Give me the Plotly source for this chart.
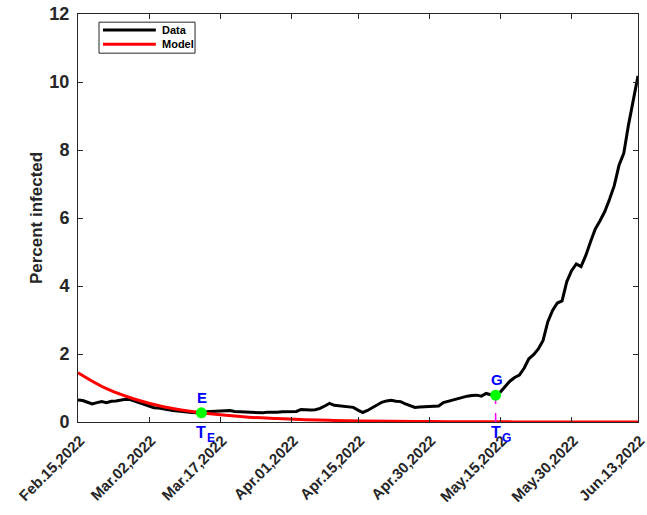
import plotly.graph_objects as go
import pandas as pd

start_date = "2022-02-15"

data_values = [
    0.65, 0.63, 0.58, 0.53, 0.57, 0.60, 0.57, 0.61, 0.62, 0.64,
    0.67, 0.66, 0.61, 0.56, 0.52, 0.47, 0.42, 0.41, 0.38, 0.36,
    0.34, 0.32, 0.30, 0.29, 0.28, 0.27, 0.27, 0.30, 0.31, 0.32,
    0.33, 0.34, 0.34, 0.31, 0.30, 0.29, 0.28, 0.28, 0.28, 0.27,
    0.29, 0.28, 0.29, 0.30, 0.30, 0.30, 0.31, 0.37, 0.35, 0.35,
    0.36, 0.40, 0.47, 0.55, 0.49, 0.48, 0.47, 0.46, 0.43, 0.35,
    0.28, 0.34, 0.42, 0.50, 0.58, 0.62, 0.64, 0.61, 0.60, 0.53,
    0.48, 0.43, 0.44, 0.45, 0.46, 0.45, 0.47, 0.57, 0.61, 0.65,
    0.68, 0.72, 0.76, 0.78, 0.79, 0.76, 0.84, 0.80, 0.79, 0.88,
    1.04, 1.20, 1.31, 1.38, 1.58, 1.86, 1.98, 2.15, 2.40, 2.95,
    3.28, 3.50, 3.56, 4.13, 4.45, 4.65, 4.57, 4.90, 5.30, 5.68,
    5.92, 6.19, 6.55, 6.95, 7.55, 7.90, 8.74, 9.47, 10.18,
]

model_days = [0, 6, 12, 18, 24, 30, 36, 42, 48, 54, 60, 66, 72, 78, 84, 90, 96, 102, 108, 114, 118]
model_values = [1.45, 0.98, 0.67, 0.45, 0.31, 0.21, 0.14, 0.10, 0.065, 0.045, 0.03, 0.02,
                0.014, 0.01, 0.006, 0.004, 0.003, 0.002, 0.001, 0.001, 0.0]

tick_dates = ["2022-02-15", "2022-03-02", "2022-03-17", "2022-04-01", "2022-04-15",
              "2022-04-30", "2022-05-15", "2022-05-30", "2022-06-13"]
tick_labels = ["Feb.15,2022", "Mar.02,2022", "Mar.17,2022", "Apr.01,2022", "Apr.15,2022",
               "Apr.30,2022", "May.15,2022", "May.30,2022", "Jun.13,2022"]
y_ticks = [0, 2, 4, 6, 8, 10, 12]

point_E_date, point_E_value = "2022-03-13", 0.27
point_G_date, point_G_value = "2022-05-14", 0.79

legend_names = ["Data", "Model"]
legend_colors = ["black", "#ff0000"]

data_dates = pd.date_range(start_date, periods=len(data_values), freq="D")
model_dates = pd.to_datetime(start_date) + pd.to_timedelta(model_days, unit="D")

AX = "#262626"
FONT = "Liberation Sans, Arial, sans-serif"
blue = "#0000ff"

fig = go.Figure()
fig.add_trace(go.Scatter(x=data_dates, y=data_values, mode="lines", name="Data",
                         line=dict(color="black", width=3), showlegend=False))
fig.add_trace(go.Scatter(x=model_dates, y=model_values, mode="lines", name="Model",
                         line=dict(color="#ff0000", width=3, shape="spline", smoothing=1.0),
                         showlegend=False))
fig.add_trace(go.Scatter(x=[point_G_date, point_G_date], y=[0, point_G_value], mode="lines",
                         line=dict(color="#ff00ff", width=1.5, dash="dash"), showlegend=False))
fig.add_trace(go.Scatter(x=[point_E_date, point_G_date], y=[point_E_value, point_G_value],
                         mode="markers", marker=dict(color="#00ff00", size=11),
                         showlegend=False))

for d, v, lab in [(point_E_date, point_E_value, "E"), (point_G_date, point_G_value, "G")]:
    fig.add_annotation(x=d, y=v, text=f"<b>{lab}</b>", showarrow=False, yanchor="bottom",
                       yshift=5, xshift=1, font=dict(color=blue, size=15, family=FONT))
    fig.add_annotation(x=d, y=0, text="<b>T</b>", showarrow=False,
                       yanchor="top", xanchor="center", xshift=0, yshift=0,
                       font=dict(color=blue, size=16, family=FONT))
    fig.add_annotation(x=d, y=0, text=f"<b>{lab}</b>", showarrow=False,
                       yanchor="top", xanchor="left", xshift=4, yshift=-7,
                       font=dict(color=blue, size=12, family=FONT))

fig.add_shape(type="rect", xref="paper", yref="paper", x0=0.0375, x1=0.209, y0=0.904, y1=0.980,
              line=dict(color=AX, width=1), fillcolor="white", layer="above")
for i, (nm, col) in enumerate(zip(legend_names, legend_colors)):
    yy = 0.961 - i * 0.035
    fig.add_shape(type="line", xref="paper", yref="paper", x0=0.0446, x1=0.139, y0=yy, y1=yy,
                  line=dict(color=col, width=3), layer="above")
    fig.add_annotation(xref="paper", yref="paper", x=0.146, y=yy, text=f"<b>{nm}</b>",
                       showarrow=False, xanchor="left", yanchor="middle",
                       font=dict(size=11, color="black", family=FONT))

fig.update_layout(
    width=647, height=515,
    margin=dict(l=78, r=9, t=14, b=93, autoexpand=False),
    paper_bgcolor="white", plot_bgcolor="white",
    font=dict(family=FONT, color=AX),
    showlegend=False,
)
fig.update_xaxes(
    type="date", automargin=False,
    range=[data_dates[0], data_dates[-1]],
    tickvals=pd.to_datetime(tick_dates), ticktext=[f"<b>{t}</b>" for t in tick_labels],
    tickangle=-45, tickfont=dict(size=15, color=AX, family=FONT),
    ticklabelshift=2, ticklabelstandoff=3, ticklabeloverflow="allow",
    showgrid=False, zeroline=False,
    showline=True, linecolor=AX, linewidth=1, mirror="ticks",
    ticks="inside", ticklen=5, tickcolor=AX,
)
fig.update_yaxes(
    automargin=False,
    range=[0, 12], tickvals=y_ticks,
    ticktext=[f"<b>{v}</b>" for v in y_ticks],
    tickfont=dict(size=18, color=AX, family=FONT),
    ticklabelstandoff=4,
    title=dict(text="<b>Percent infected</b>", font=dict(size=17, color=AX, family=FONT), standoff=2),
    showgrid=False, zeroline=False,
    showline=True, linecolor=AX, linewidth=1, mirror="ticks",
    ticks="inside", ticklen=5, tickcolor=AX,
)

fig.write_html("out.html", config={"displayModeBar": False},
               post_script="document.body.style.margin='0';document.body.style.overflow='hidden';")
